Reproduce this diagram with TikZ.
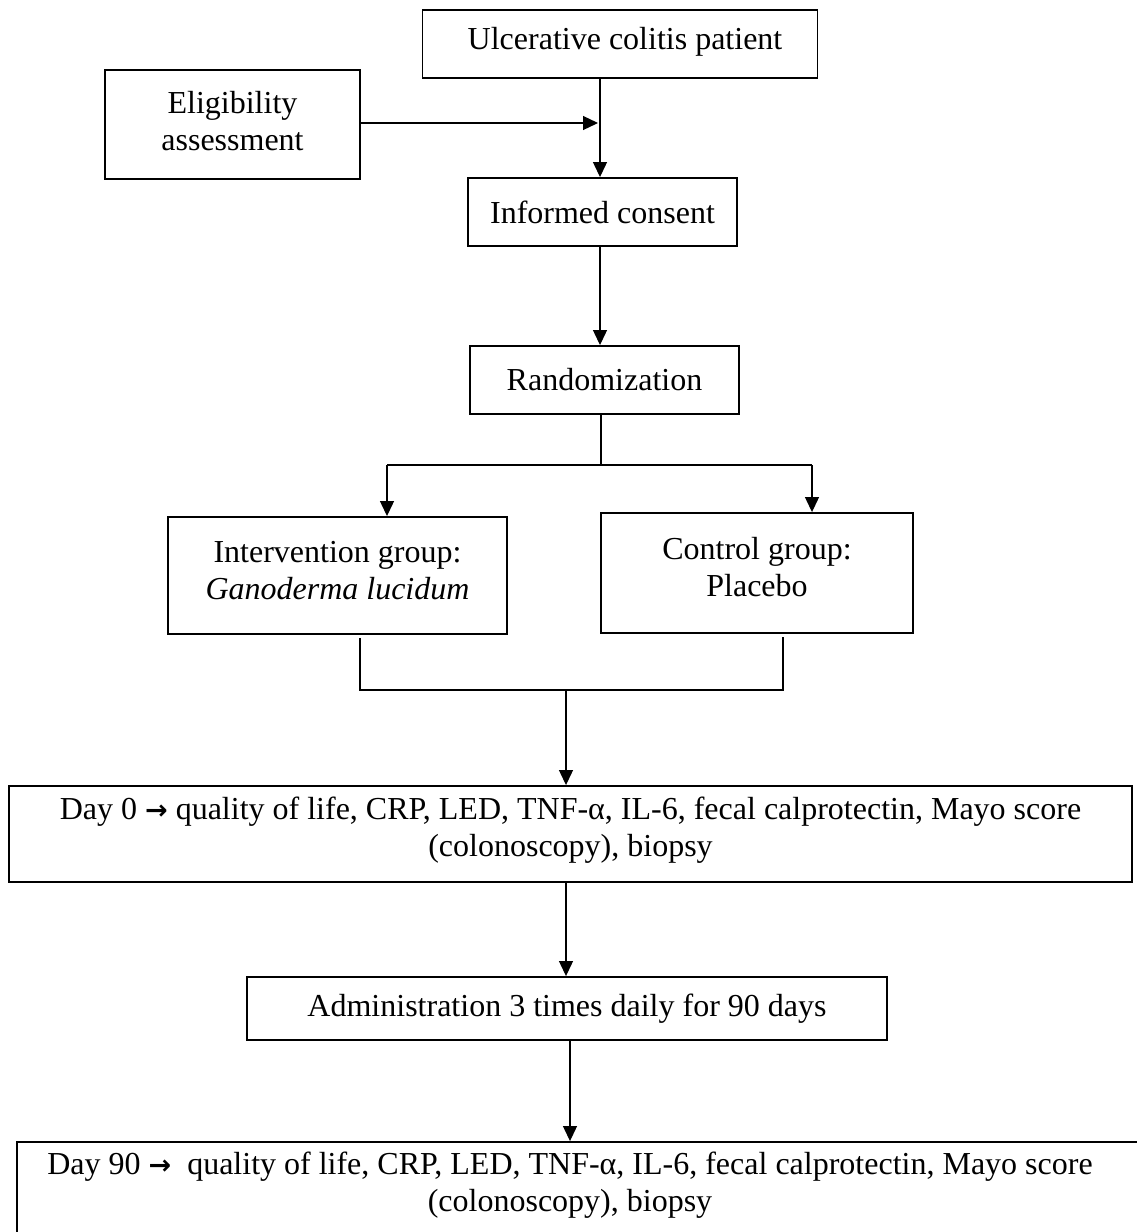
\documentclass[tikz,border=0pt]{standalone}
\usepackage{fontspec}
\setmainfont{Liberation Serif}
\newfontfamily\arrowfont{DejaVu Sans}
\usetikzlibrary{arrows.meta}
\newcommand{\rarr}{{\arrowfont\bfseries\fontsize{27}{37}\selectfont →}}
\begin{document}
\begin{tikzpicture}[x=1pt,y=-1pt,
  box/.style={draw, line width=1.9pt, inner sep=0pt, align=center, font=\fontsize{32}{37}\selectfont},
  txt/.style={inner sep=0pt, align=center, font=\fontsize{32}{37}\selectfont},
  conn/.style={line width=1.2pt},
  arr/.style={conn, -{Triangle[length=15pt,width=14pt]}}
]
\useasboundingbox (0,0) rectangle (1136,1232);
\fill[white] (0,0) rectangle (1136,1232);
% boxes
\node[box, minimum width=395pt, minimum height=68pt] (ulc) at (620,44) {};
\node[txt] (ulct) at (625,42) {Ulcerative colitis patient};
\node[box, minimum width=255pt, minimum height=109pt] (elig) at (232.5,124.5) {};
\node[txt] (eligt) at (232.5,121) {Eligibility\\assessment};
\node[box, minimum width=269pt, minimum height=68pt] (inf) at (602.5,212) {Informed consent};
\node[box, minimum width=269pt, minimum height=68pt] (rand) at (604.5,380) {Randomization};
\node[box, minimum width=339pt, minimum height=117pt] (inter) at (337.5,575.5) {};
\node[txt] (intert) at (337.5,571) {Intervention group:\\\textit{Ganoderma lucidum}};
\node[box, minimum width=312pt, minimum height=120pt] (ctrl) at (757,573) {};
\node[txt] (ctrlt) at (757,567) {Control group:\\Placebo};
\node[box, minimum width=1123pt, minimum height=96pt] (d0) at (570.5,834) {};
\node[txt] (d0t) at (570.5,830) {Day 0 \rarr{} quality of life, CRP, LED, TNF-α, IL-6, fecal calprotectin, Mayo score\\(colonoscopy), biopsy};
\node[box, minimum width=640pt, minimum height=63pt] (adm) at (567,1008.5) {Administration 3 times daily for 90 days};
\node[box, minimum width=1121pt, minimum height=158pt] (d90) at (577.5,1221) {};
\node[txt] (d90t) at (570,1185) {Day 90 \rarr{}\ \ quality of life, CRP, LED, TNF-α, IL-6, fecal calprotectin, Mayo score\\(colonoscopy), biopsy};
% helper coordinates
\coordinate (cx) at (600,0);
\coordinate (j1) at (601,465);
\coordinate (jL) at (387,465);
\coordinate (jR) at (812,465);
\coordinate (bL) at (360,690);
\coordinate (bR) at (783,690);
\coordinate (bM) at (566,690);
\coordinate (c570) at (570,0);
\coordinate (etip) at (598,123);
% connectors
\draw[arr] (ulc.south -| cx) -- (inf.north -| cx);
\draw[arr] (elig.east |- etip) -- (etip);
\draw[arr] (inf.south -| cx) -- (rand.north -| cx);
\draw[conn] (rand.south -| j1) -- (j1);
\draw[conn] (jL) -- (jR);
\draw[arr] (jL) -- (jL |- inter.north);
\draw[arr] (jR) -- (jR |- ctrl.north);
\draw[conn] ([yshift=-3pt]inter.south -| bL) -- (bL) -- (bR) -- ([yshift=-3pt]ctrl.south -| bR);
\draw[arr] (bM) -- (bM |- d0.north);
\draw[arr] (d0.south -| bM) -- (adm.north -| bM);
\draw[arr] (adm.south -| c570) -- (d90.north -| c570);
\end{tikzpicture}
\end{document}
